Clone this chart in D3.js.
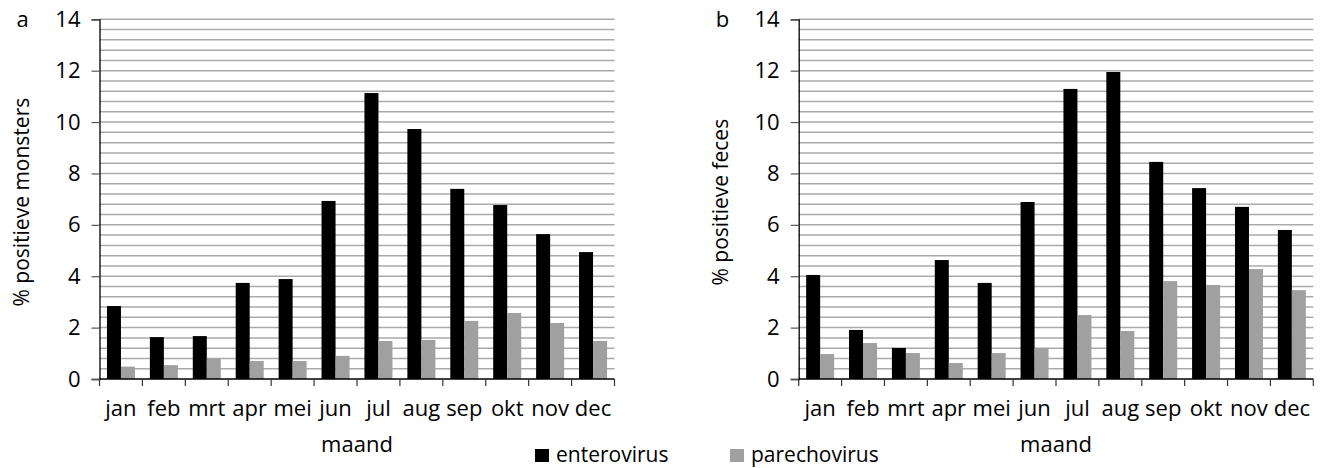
<!DOCTYPE html>
<html>
<head>
<meta charset="utf-8">
<script src="https://cdn.jsdelivr.net/npm/d3@7"></script>
<style>
  html, body { margin: 0; padding: 0; background: #fff; }
  svg text { font-family: "Open Sans", "Noto Sans", sans-serif; fill: #000; }
</style>
</head>
<body>
<svg id="chart" width="1325" height="468"></svg>
<script>
// Months (Dutch abbreviations)
const months = ["jan", "feb", "mrt", "apr", "mei", "jun", "jul", "aug", "sep", "okt", "nov", "dec"];

// Panel a: % positive samples
const monstersEntero = [2.84, 1.63, 1.67, 3.74, 3.89, 6.93, 11.13, 9.73, 7.40, 6.77, 5.64, 4.94];
const monstersParecho = [0.48, 0.54, 0.79, 0.70, 0.70, 0.90, 1.48, 1.52, 2.26, 2.57, 2.18, 1.48];

// Panel b: % positive faeces
const fecesEntero = [4.05, 1.91, 1.21, 4.63, 3.74, 6.89, 11.29, 11.95, 8.45, 7.43, 6.70, 5.80];
const fecesParecho = [0.97, 1.40, 1.01, 0.62, 1.01, 1.21, 2.49, 1.87, 3.81, 3.66, 4.28, 3.46];

const yTicks = [0, 2, 4, 6, 8, 10, 12, 14];
const seriesNames = ["enterovirus", "parechovirus"];
const seriesColors = ["#000000", "#a0a0a0"];

const svg = d3.select("#chart");

function drawPanel(opts) {
  const { left, right, top, bottom, letter, yTitle, entero, parecho } = opts;
  const g = svg.append("g");

  const x = d3.scaleBand().domain(months).range([left, right]).paddingInner(0).paddingOuter(0);
  const y = d3.scaleLinear().domain([0, 14]).range([bottom, top]);

  // Horizontal gridlines every 0.4
  const gridVals = d3.range(1, 36).map(i => +(i * 0.4).toFixed(1));
  g.append("g").selectAll("line").data(gridVals).join("line")
    .attr("x1", left).attr("x2", right)
    .attr("y1", d => y(d)).attr("y2", d => y(d))
    .attr("stroke", "#aaaaaa").attr("stroke-width", 1.5);

  // Bars
  const barW = 14;
  const sub = d3.scaleBand().domain([0, 1]).range([0, barW * 2]);
  const rows = months.map((m, i) => ({ m, vals: [entero[i], parecho[i]] }));
  const grp = g.append("g").selectAll("g").data(rows).join("g")
    .attr("transform", d => `translate(${x(d.m) + x.bandwidth() / 2 - barW},0)`);
  grp.selectAll("rect").data(d => d.vals.map((v, k) => ({ v, k }))).join("rect")
    .attr("x", d => sub(d.k))
    .attr("width", sub.bandwidth())
    .attr("y", d => y(d.v))
    .attr("height", d => y(0) - y(d.v))
    .attr("fill", d => seriesColors[d.k]);

  // Y axis
  const yAxis = g.append("g").attr("transform", `translate(${left},0)`)
    .call(d3.axisLeft(y).tickValues(yTicks).tickSize(8).tickPadding(11).tickFormat(d3.format("d")));
  yAxis.select(".domain").attr("stroke", "#000").attr("stroke-width", 1.3);
  yAxis.selectAll(".tick line").attr("stroke", "#555").attr("stroke-width", 1.2);
  yAxis.selectAll("text").style("font-size", "22px");

  // X axis with ticks on category boundaries
  const xAxis = g.append("g").attr("transform", `translate(0,${bottom})`);
  xAxis.append("line").attr("x1", left).attr("x2", right).attr("y1", 0).attr("y2", 0)
    .attr("stroke", "#000").attr("stroke-width", 1.3);
  const bounds = months.map(m => x(m)).concat([right]);
  xAxis.selectAll("line.tk").data(bounds).join("line").attr("class", "tk")
    .attr("x1", d => d).attr("x2", d => d).attr("y1", 0).attr("y2", 7)
    .attr("stroke", "#333").attr("stroke-width", 1.2);
  xAxis.selectAll("text").data(months).join("text")
    .attr("x", d => x(d) + x.bandwidth() / 2)
    .attr("y", 37)
    .attr("text-anchor", "middle")
    .style("font-size", "22px")
    .text(d => d);

  // Axis titles
  g.append("text")
    .attr("x", (left + right) / 2).attr("y", 452)
    .attr("text-anchor", "middle").style("font-size", "22px")
    .text("maand");

  g.append("text")
    .attr("transform", `translate(${left - 71},${(top + bottom) / 2 + 3}) rotate(-90)`)
    .attr("text-anchor", "middle").style("font-size", "21px")
    .text(yTitle);

  // Panel letter
  g.append("text")
    .attr("x", left - 83).attr("y", top + 8)
    .style("font-size", "22px")
    .text(letter);
}

drawPanel({ left: 99.5, right: 614.5, top: 19.3, bottom: 379, letter: "a",
  yTitle: "% positieve monsters", entero: monstersEntero, parecho: monstersParecho });
drawPanel({ left: 798.7, right: 1313.3, top: 19.3, bottom: 379, letter: "b",
  yTitle: "% positieve feces", entero: fecesEntero, parecho: fecesParecho });

// Legend
const legend = svg.append("g");
const legendX = [535, 730];
seriesNames.forEach((name, i) => {
  const lg = legend.append("g").attr("transform", `translate(${legendX[i]},449)`);
  lg.append("rect").attr("width", 14).attr("height", 13).attr("fill", seriesColors[i]);
  lg.append("text").attr("x", 21).attr("y", 13).style("font-size", "21px").text(name);
});
</script>
</body>
</html>
